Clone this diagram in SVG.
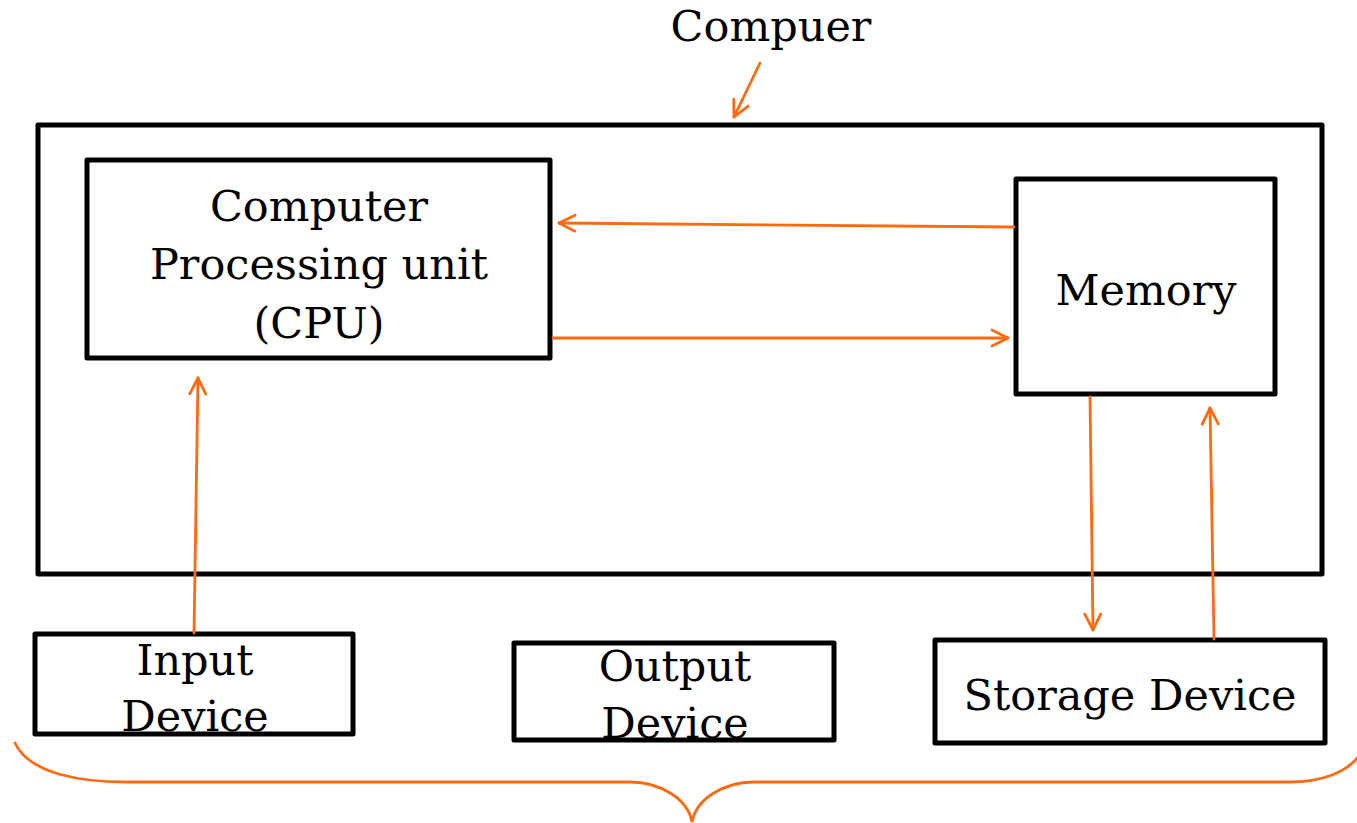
<svg xmlns="http://www.w3.org/2000/svg" width="1357" height="823" viewBox="0 0 1357 823">
<style>
.box{fill:none;stroke:#000;stroke-width:5;stroke-linejoin:round}
.bg{fill:#fff;stroke:none}
.t{font-family:"DejaVu Serif","Liberation Serif",serif;font-size:43px;fill:#000;text-anchor:middle}
.c{fill:none;stroke:#ff6a10;stroke-width:2.8;stroke-linecap:round}
</style>
<defs>
<marker id="ah" viewBox="0 0 20 20" refX="18" refY="10" markerWidth="20" markerHeight="20" markerUnits="userSpaceOnUse" orient="auto">
<path d="M2,2 L18,10 L2,18" fill="none" stroke="#ff6a10" stroke-width="2.8" stroke-linecap="round" stroke-linejoin="round"/>
</marker>
</defs>
<rect width="1357" height="823" fill="#fff"/>
<g id="title"><text class="t" x="771" y="41">Compuer</text></g>
<g id="computer"><rect class="box" x="38" y="125" width="1284" height="449"/></g>
<g id="cpu">
<rect class="bg" x="87" y="160" width="463" height="198"/>
<text class="t" x="319" y="221">Computer</text>
<text class="t" x="319" y="279">Processing unit</text>
<text class="t" x="319" y="338">(CPU)</text>
<rect class="box" x="87" y="160" width="463" height="198"/>
</g>
<g id="memory">
<rect class="bg" x="1016" y="179" width="259" height="215"/>
<text class="t" x="1146" y="305">Memory</text>
<rect class="box" x="1016" y="179" width="259" height="215"/>
</g>
<g id="input">
<rect class="bg" x="35" y="634" width="318" height="100"/>
<text class="t" x="195" y="675">Input</text>
<text class="t" x="195" y="731">Device</text>
<rect class="box" x="35" y="634" width="318" height="100"/>
</g>
<g id="output">
<rect class="bg" x="514" y="643" width="320" height="97"/>
<text class="t" x="675" y="681">Output</text>
<text class="t" x="675" y="738">Device</text>
<rect class="box" x="514" y="643" width="320" height="97"/>
</g>
<g id="storage">
<rect class="bg" x="935" y="640" width="390" height="103"/>
<text class="t" x="1130" y="710">Storage Device</text>
<rect class="box" x="935" y="640" width="390" height="103"/>
</g>
<g id="connectors">
<line class="c" x1="760" y1="63" x2="734" y2="117" marker-end="url(#ah)"/>
<line class="c" x1="1014" y1="227" x2="559" y2="223" marker-end="url(#ah)"/>
<line class="c" x1="553" y1="338" x2="1008" y2="338" marker-end="url(#ah)"/>
<line class="c" x1="194" y1="633" x2="198" y2="378" marker-end="url(#ah)"/>
<line class="c" x1="1090" y1="397" x2="1093" y2="630" marker-end="url(#ah)"/>
<line class="c" x1="1214" y1="639" x2="1210" y2="408" marker-end="url(#ah)"/>
<path class="c" d="M15,743 C30,775 85,782 125,782 L630,782 C662,782 688,800 692,822 C696,800 722,782 754,782 L1290,782 C1322,782 1346,772 1357,758"/>
</g>
</svg>
